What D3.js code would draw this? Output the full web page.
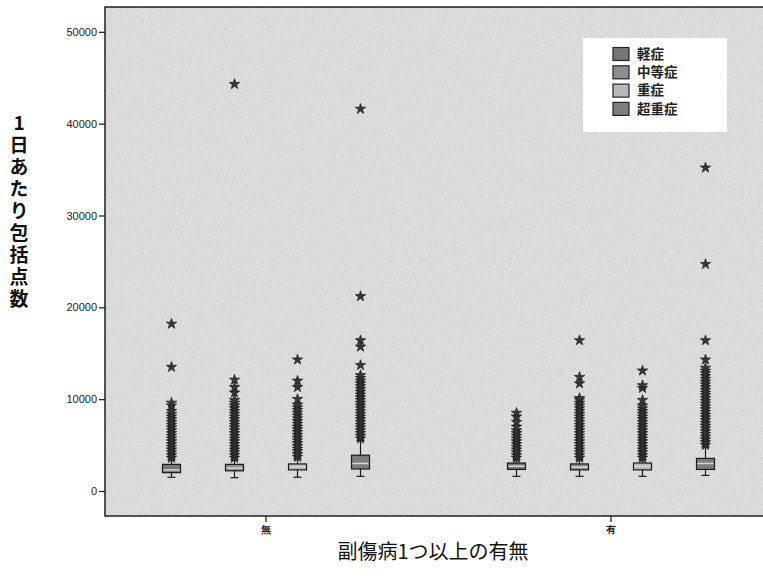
<!DOCTYPE html>
<html>
<head>
<meta charset="utf-8">
<script src="https://cdn.jsdelivr.net/npm/d3@7"></script>
<style>
  body { margin: 0; background: #fff; }
  svg { display: block; }
  .tick text { font-family: "Liberation Sans", Arial, sans-serif; }
</style>
</head>
<body>
<div id="chart"></div>
<script>
// categories
const groups = ["無", "有"];
const severities = ["軽症", "中等症", "重症", "超重症"];
const yTicks = [0, 10000, 20000, 30000, 40000, 50000];

// box statistics, one row per group (無, 有), one column per severity
const whiskerLow  = [[1500, 1450, 1500, 1600], [1600, 1600, 1600, 1700]];
const q1          = [[2000, 2200, 2300, 2400], [2350, 2300, 2300, 2350]];
const medians     = [[2300, 2500, 2650, 3000], [2700, 2600, 2700, 3000]];
const q3          = [[2900, 2900, 2950, 3900], [3050, 2950, 3050, 3550]];
const whiskerHigh = [[3400, 3400, 3500, 5500], [3400, 3400, 3400, 4800]];

// extreme values (stars)
const extremesNone = [
  [3600, 3900, 4200, 4500, 4800, 5100, 5400, 5700, 6000, 6300, 6600, 6900, 7200, 7500, 7800, 8100, 8400, 8700, 9300, 9600, 13500, 18200],
  [3600, 3900, 4200, 4500, 4800, 5100, 5400, 5700, 6000, 6300, 6600, 6900, 7200, 7500, 7800, 8100, 8400, 8700, 9000, 9300, 9600, 9900, 10700, 11300, 12100, 44300],
  [3700, 4000, 4300, 4600, 4900, 5200, 5500, 5800, 6100, 6400, 6700, 7000, 7300, 7600, 7900, 8200, 8500, 8800, 9100, 9400, 10000, 11300, 12000, 14300],
  [5700, 6000, 6300, 6600, 6900, 7200, 7500, 7800, 8100, 8400, 8700, 9000, 9300, 9600, 9900, 10200, 10500, 10800, 11100, 11400, 11700, 12000, 12300, 12600, 13700, 15700, 16400, 21200, 41600]
];
const extremesSome = [
  [3600, 3900, 4200, 4500, 4800, 5100, 5400, 5700, 6000, 6300, 6600, 7000, 7500, 8100, 8500],
  [3600, 3900, 4200, 4500, 4800, 5100, 5400, 5700, 6000, 6300, 6600, 6900, 7200, 7500, 7800, 8100, 8400, 8700, 9000, 9300, 9600, 9900, 10100, 11700, 12400, 16400],
  [3600, 3900, 4200, 4500, 4800, 5100, 5400, 5700, 6000, 6300, 6600, 6900, 7200, 7500, 7800, 8100, 8400, 8700, 9000, 9300, 9900, 11200, 11500, 13100],
  [5000, 5300, 5600, 5900, 6200, 6500, 6800, 7100, 7400, 7700, 8000, 8300, 8600, 8900, 9200, 9500, 9800, 10100, 10400, 10700, 11000, 11300, 11600, 11900, 12200, 12500, 12800, 13100, 13400, 14300, 16400, 24700, 35200]
];
const extremes = [extremesNone, extremesSome];

const sevColors = ["#767676", "#8e8e8e", "#b8b8b8", "#7e7e7e"];

const width = 763, height = 582;
const plot = { left: 105, top: 7, right: 775, bottom: 516 };

const svg = d3.select("#chart").append("svg")
  .attr("width", width).attr("height", height);

const defs = svg.append("defs");
const grain = defs.append("filter").attr("id", "grain")
  .attr("x", 0).attr("y", 0).attr("width", 1).attr("height", 1);
grain.append("feTurbulence").attr("type", "fractalNoise")
  .attr("baseFrequency", 1.1).attr("numOctaves", 1).attr("seed", 7);
grain.append("feColorMatrix").attr("type", "matrix")
  .attr("values", "0 0 0 0 1  0 0 0 0 1  0 0 0 0 1  0 0 0 1.6 -0.55");
grain.append("feComposite").attr("in2", "SourceGraphic").attr("operator", "in");

const y = d3.scaleLinear().domain([-2720, 52700]).range([plot.bottom, plot.top]);

const xGroup = d3.scaleBand().domain(groups).range([93.5, 783.5]);
const xSev = d3.scaleBand().domain(severities).range([-126, 126]);
const xPos = (gi, si) => xGroup(groups[gi]) + xGroup.bandwidth() / 2 + xSev(severities[si]) + xSev.bandwidth() / 2;

// plot background
svg.append("rect")
  .attr("x", plot.left).attr("y", plot.top)
  .attr("width", plot.right - plot.left).attr("height", plot.bottom - plot.top)
  .attr("fill", "#d4d4d4");
svg.append("rect")
  .attr("x", plot.left).attr("y", plot.top)
  .attr("width", plot.right - plot.left).attr("height", plot.bottom - plot.top)
  .attr("fill", "#bcbcbc").attr("filter", "url(#grain)").attr("opacity", 0.6);

// boxes
const boxW = 18, capW = 8;
const star = d3.symbol().type(d3.symbolStar).size(34);

groups.forEach((g, gi) => {
  severities.forEach((s, si) => {
    const cx = xPos(gi, si);
    const gBox = svg.append("g");

    // whiskers
    gBox.append("line")
      .attr("x1", cx).attr("x2", cx)
      .attr("y1", y(whiskerLow[gi][si])).attr("y2", y(whiskerHigh[gi][si]))
      .attr("stroke", "#1a1a1a").attr("stroke-width", 1.2);
    [whiskerLow[gi][si], whiskerHigh[gi][si]].forEach(v => {
      gBox.append("line")
        .attr("x1", cx - capW / 2).attr("x2", cx + capW / 2)
        .attr("y1", y(v)).attr("y2", y(v))
        .attr("stroke", "#1a1a1a").attr("stroke-width", 1.2);
    });

    // extreme stars
    gBox.selectAll("path.star")
      .data(extremes[gi][si])
      .join("path")
      .attr("class", "star")
      .attr("d", star)
      .attr("transform", d => `translate(${cx},${y(d)})`)
      .attr("fill", "#363636")
      .attr("stroke", "#1a1a1a")
      .attr("stroke-width", 0.7);

    // box
    gBox.append("rect")
      .attr("x", cx - boxW / 2).attr("width", boxW)
      .attr("y", y(q3[gi][si])).attr("height", y(q1[gi][si]) - y(q3[gi][si]))
      .attr("fill", sevColors[si])
      .attr("stroke", "#1a1a1a").attr("stroke-width", 1.2);
    gBox.append("line")
      .attr("x1", cx - boxW / 2 + 1).attr("x2", cx + boxW / 2 - 1)
      .attr("y1", y(medians[gi][si])).attr("y2", y(medians[gi][si]))
      .attr("stroke", "#d8d8d8").attr("stroke-width", 1.5);
  });
});

// frame
svg.append("rect")
  .attr("x", plot.left).attr("y", plot.top)
  .attr("width", plot.right - plot.left).attr("height", plot.bottom - plot.top)
  .attr("fill", "none").attr("stroke", "#111").attr("stroke-width", 1.4);

// y axis
const yAxis = svg.append("g")
  .attr("transform", `translate(${plot.left},0)`)
  .call(d3.axisLeft(y).tickValues(yTicks).tickSize(6).tickPadding(2).tickFormat(d3.format("d")));
yAxis.select(".domain").remove();
yAxis.selectAll(".tick line").attr("stroke", "#111").attr("stroke-width", 1.2);
yAxis.selectAll(".tick text").attr("font-size", 11).attr("fill", "#222");

// x axis
const xAxis = svg.append("g")
  .attr("transform", `translate(0,${plot.bottom})`)
  .call(d3.axisBottom(xGroup).tickSize(6).tickPadding(4));
xAxis.select(".domain").remove();
xAxis.selectAll(".tick line").attr("stroke", "#111").attr("stroke-width", 1.2);
xAxis.selectAll(".tick text")
  .attr("font-size", 10).attr("font-weight", "bold")
  .attr("font-family", "'Noto Sans CJK JP', sans-serif").attr("fill", "#222");

// axis titles
svg.append("text")
  .attr("x", 433).attr("y", 559)
  .attr("text-anchor", "middle")
  .attr("font-family", "'Noto Sans CJK JP', sans-serif")
  .attr("font-size", 20).attr("fill", "#111")
  .text("副傷病1つ以上の有無");

// vertical title, upright glyphs
svg.append("text")
  .attr("x", 19).attr("y", 113)
  .style("writing-mode", "vertical-rl")
  .style("text-orientation", "upright")
  .attr("letter-spacing", 3)
  .attr("font-family", "'Noto Sans CJK JP', sans-serif")
  .attr("font-weight", "bold")
  .attr("font-size", 19).attr("fill", "#111")
  .text("1日あたり包括点数");

// legend
const legend = svg.append("g");
legend.append("rect")
  .attr("x", 583).attr("y", 38).attr("width", 144).attr("height", 94)
  .attr("fill", "#fff");
const legendRows = legend.selectAll("g.row")
  .data(severities)
  .join("g")
  .attr("class", "row")
  .attr("transform", (d, i) => `translate(613,${54 + i * 18.3})`);
legendRows.append("rect")
  .attr("x", 0).attr("y", -6.5).attr("width", 16).attr("height", 13)
  .attr("fill", (d, i) => sevColors[i])
  .attr("stroke", "#222").attr("stroke-width", 1.2);
legendRows.append("text")
  .attr("x", 24).attr("y", 0).attr("dy", "0.36em")
  .attr("font-family", "'Noto Sans CJK JP', sans-serif")
  .attr("font-weight", "bold")
  .attr("font-size", 13.5).attr("fill", "#222")
  .text(d => d);
</script>
</body>
</html>
